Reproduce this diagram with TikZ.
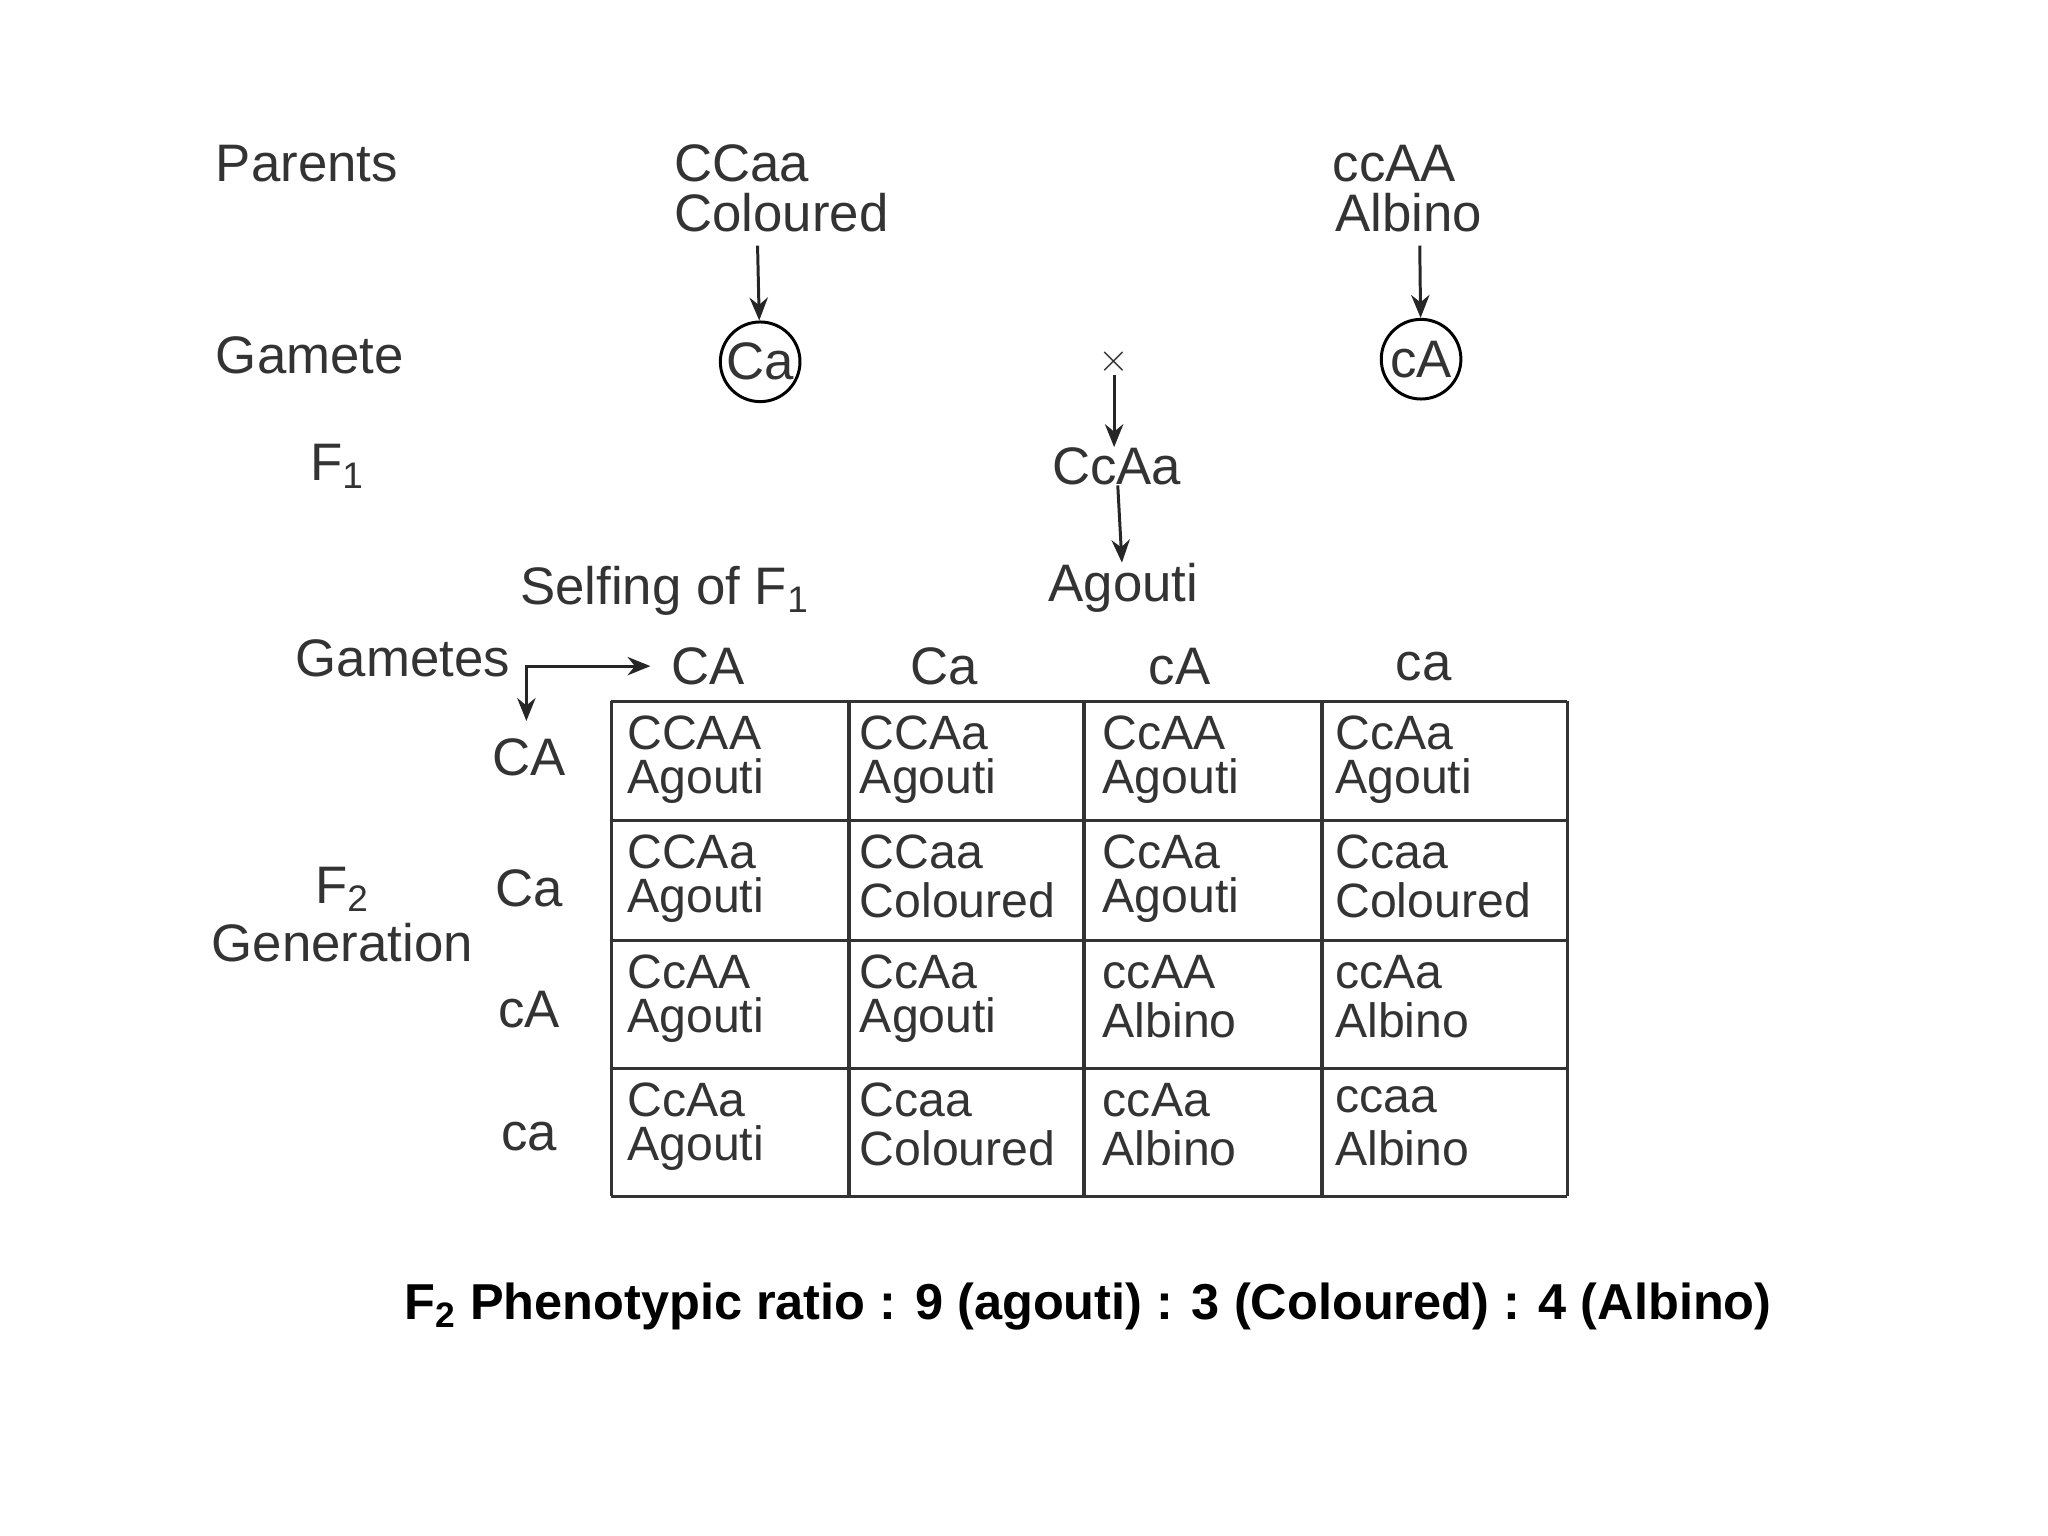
\documentclass[tikz,border=0pt]{standalone}
\usepackage{fontspec}
\setmainfont{Liberation Sans}
\usetikzlibrary{arrows.meta}
\begin{document}
\begin{tikzpicture}[x=0.02cm,y=-0.02cm,
  t/.style={font=\fontsize{23}{25}\selectfont, text=black!80, inner sep=0pt},
  tl/.style={t, anchor=west},
  ct/.style={anchor=west, inner sep=0pt, text=black!80, font=\fontsize{21}{22}\selectfont},
  arr/.style={-{Stealth[length=10pt,width=8pt]}, line width=1.3pt, black!85},
  cell/.style={draw=black!80, line width=1.5pt}]
\useasboundingbox (0,0) rectangle (1568,1176);
\node[tl] (par) at (165,125) {Parents};
\node[tl] (gam) at (165,272) {Gamete};
\node[tl] (f1) at (237,357) {F\textsubscript{1}};
\node[tl] (self) at (398,452) {Selfing of F\textsubscript{1}};
\node[tl] (gams) at (226,504) {Gametes};
\node[tl] (p1) at (516,125) {CCaa};
\node[tl] (p1b) at (516,163) {Coloured};
\node[tl] (p2) at (1020,125) {ccAA};
\node[tl] (p2b) at (1022,163) {Albino};
\node[t, draw, circle, line width=1.3pt, minimum size=1.22cm, inner sep=0pt] (g1) at (582,277) {Ca};
\node[t, draw, circle, line width=1.3pt, minimum size=1.22cm, inner sep=0pt] (g2) at (1088,275) {cA};
\draw[arr] (580,188) -- (g1);
\draw[arr] (1087,188) -- (g2);
\node[t, font=\fontsize{16}{16}\bfseries] (x) at (853,277) {$\times$};
\node[t] (f1g) at (855,357) {CcAa};
\node[t] (ag) at (860,450) {Agouti};
\draw[arr] (x) -- (x|-f1g.north);
\draw[arr] (f1g) -- (ag);
\coordinate (corner) at (403,510);
\draw[arr, {Stealth[length=10pt,width=8pt]}-{Stealth[length=10pt,width=8pt]}] (403,552) -- (corner) -- (498,510);
\foreach \x/\l in {542/CA,723/Ca,903/cA,1090/ca} \node[t] at (\x,510) {\l};
\foreach \y/\l in {580/CA,680/Ca,773/cA,870/ca} \node[t] at (405,\y) {\l};
\node[t] (f2) at (262,681) {F\textsubscript{2}};
\node[t] (gen) at (262,722) {Generation};
\foreach \x in {468,650,830,1012,1200} \draw[cell] (\x,537) -- (\x,916);
\foreach \y in {537,628,720,818,916} \draw[cell] (468,\y) -- (1200,\y);
\foreach \y/\a/\b/\c/\d/\e/\f/\g/\h in {
  537/CCAA/Agouti/CCAa/Agouti/CcAA/Agouti/CcAa/Agouti,
  628/CCAa/Agouti/CCaa/Coloured/CcAa/Agouti/Ccaa/Coloured,
  720/CcAA/Agouti/CcAa/Agouti/ccAA/Albino/ccAa/Albino,
  818/CcAa/Agouti/Ccaa/Coloured/ccAa/Albino/ccaa/Albino}{
  \node[ct] at (480,\y+24) {\a}; \node[ct] at (480,\y+61) {\b};
  \node[ct] at (658,\y+24) {\c}; \node[ct] at (658,\y+61) {\d};
  \node[ct] at (844,\y+24) {\e}; \node[ct] at (844,\y+61) {\f};
  \node[ct] at (1022,\y+24) {\g}; \node[ct] at (1022,\y+61) {\h};
}
\node[inner sep=0pt, font=\fontsize{22}{24}\bfseries] (ratio) at (833,1000) {F\textsubscript{2} Phenotypic ratio : 9 (agouti) : 3 (Coloured) : 4 (Albino)};
\end{tikzpicture}
\end{document}
